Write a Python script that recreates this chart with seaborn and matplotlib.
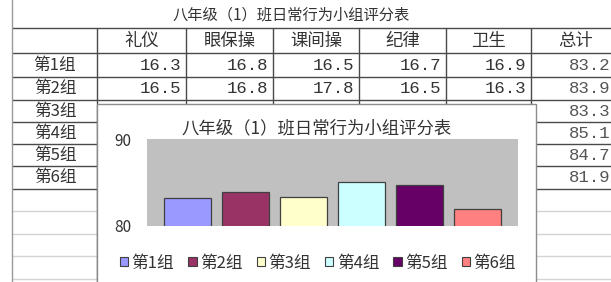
import numpy as np
import pandas as pd
import seaborn as sns
import matplotlib.pyplot as plt
from matplotlib.patches import Rectangle, Patch

# data
title = '八年级（1）班日常行为小组评分表'
items = ['礼仪', '眼保操', '课间操', '纪律', '卫生', '总计']
groups = ['第1组', '第2组', '第3组', '第4组', '第5组', '第6组']
scores_g1 = [16.3, 16.8, 16.5, 16.7, 16.9]
scores_g2 = [16.5, 16.8, 17.8, 16.5, 16.3]
totals = [83.2, 83.9, 83.3, 85.1, 84.7, 81.9]
bar_colors = ['#9999ff', '#993366', '#ffffcc', '#ccffff', '#660066', '#ff8080']

sns.set_style('white')
plt.rcParams['font.family'] = ['Noto Sans CJK SC', 'DejaVu Sans']

W, H = 611, 282
fig = plt.figure(figsize=(W / 100, H / 100), dpi=100)

# background "spreadsheet", pixel coords
bg = fig.add_axes([0, 0, 1, 1])
bg.set_xlim(0, W)
bg.set_ylim(H, 0)
bg.axis('off')

col_x = [12, 97, 186, 273, 359, 446, 531, 620]
row_y = [28, 53, 77, 100, 122, 144, 166, 189]
light_y = [211, 234, 256, 279]
dark = '#4a4a4a'
light = '#d4d4d4'
txt = '#333333'

for y in row_y:
    bg.plot([12, W], [y, y], color=dark, lw=1)
for y in light_y:
    bg.plot([12, W], [y, y], color=light, lw=1)
bg.plot([12, 12], [0, H], color='#9a9a9a', lw=1)
bg.plot([97, 97], [28, H], color=dark, lw=1)
for x in col_x[2:-1]:
    bg.plot([x, x], [28, 189], color=dark, lw=1)

bg.text(291, 15, title, ha='center', va='center', fontsize=11, color=txt)

for i, name in enumerate(items):
    cx = (col_x[i + 1] + col_x[i + 2]) / 2
    bg.text(cx, 41, name, ha='center', va='center', fontsize=12.5, color=txt)

for j, g in enumerate(groups):
    cy = (row_y[j + 1] + row_y[j + 2]) / 2
    bg.text(55, cy, g, ha='center', va='center', fontsize=12, color=txt)
    # the total column runs off the right edge of the screenshot
    bg.text(W - 1, cy, f'{totals[j]:.1f}', ha='right', va='center',
            fontsize=12.5, family='Liberation Mono', color='#555555')

for j, row in enumerate([scores_g1, scores_g2]):
    cy = (row_y[j + 1] + row_y[j + 2]) / 2
    for i, v in enumerate(row):
        bg.text(col_x[i + 2] - 5, cy, f'{v:.1f}', ha='right', va='center',
                fontsize=12.5, family='Liberation Mono', color=txt)

# chart object sitting on top of the sheet
bg.add_patch(Rectangle((97, 104), 439, 190, facecolor='white',
                       edgecolor='#8c8c8c', lw=1, zorder=5))
bg.text(317, 128, title, ha='center', va='center', fontsize=12.5,
        color=txt, zorder=6)

ax = fig.add_axes([147 / W, 1 - 226 / H, 371 / W, 87 / H])
df = pd.DataFrame({'group': groups, 'total': totals})
sns.barplot(data=df, x='group', y='total', hue='group', palette=bar_colors,
            saturation=1, dodge=False, width=0.81, edgecolor='#404040',
            linewidth=0.9, legend=False, ax=ax)
ax.set_facecolor('#c0c0c0')
ax.set_ylim(80, 90)
ax.set_xlim(-0.7, 5.7)
ax.set_yticks([80, 90])
ax.set_xticks([])
ax.set_xlabel('')
ax.set_ylabel('')
ax.tick_params(axis='y', length=0, pad=11, labelsize=11, labelcolor=txt)
for s in ax.spines.values():
    s.set_visible(False)

handles = [Patch(facecolor=c, edgecolor='#404040', lw=0.8) for c in bar_colors]
fig.legend(handles, groups, loc='center', bbox_to_anchor=(318 / W, 1 - 263 / H),
           ncol=6, frameon=False, fontsize=12, handlelength=0.5, handleheight=0.5,
           handletextpad=0.2, columnspacing=0.85, labelcolor=txt)

fig.savefig('out.png', dpi=100)
